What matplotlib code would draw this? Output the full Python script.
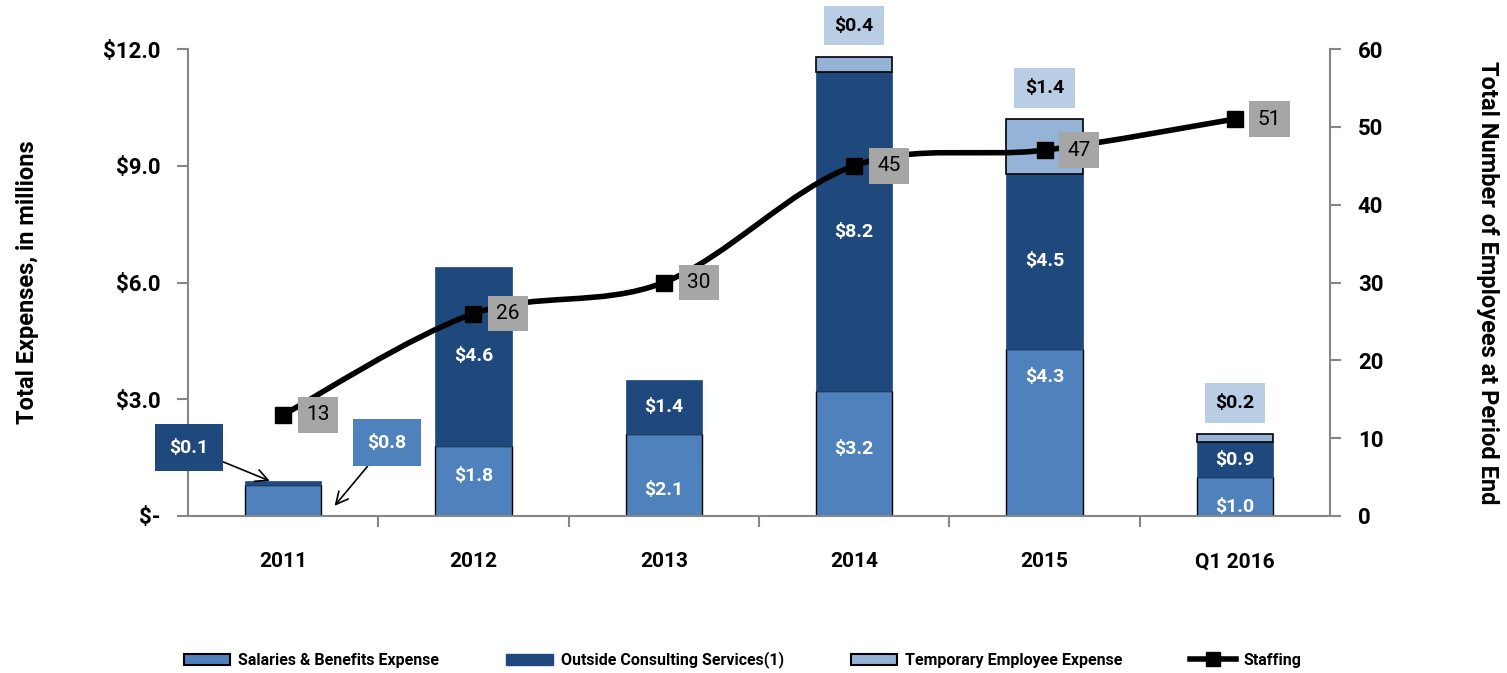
import numpy as np
import matplotlib.pyplot as plt
from matplotlib.path import Path
from matplotlib.patches import PathPatch
from matplotlib.lines import Line2D
from matplotlib.patches import Patch

years = ['2011', '2012', '2013', '2014', '2015', 'Q1 2016']
salaries = [0.8, 1.8, 2.1, 3.2, 4.3, 1.0]
consulting = [0.1, 4.6, 1.4, 8.2, 4.5, 0.9]
temporary = [0.0, 0.0, 0.0, 0.4, 1.4, 0.2]
staffing = [13, 26, 30, 45, 47, 51]

C_SAL = '#4F81BD'
C_CON = '#1F497D'
C_TMP = '#95B3D7'
C_TMP_BOX = '#B9CDE5'
C_AXIS = '#868686'

plt.rcParams['font.family'] = ['Roboto', 'DejaVu Sans']

fig = plt.figure(figsize=(15.07, 6.73), dpi=100)
ax = fig.add_axes([188 / 1507, 1 - 516 / 673, 1142 / 1507, 467 / 673])
x = np.arange(len(years))
w = 0.4

sal = np.array(salaries)
con = np.array(consulting)
tmp = np.array(temporary)

ax.bar(x, sal, w, color=C_SAL, edgecolor='black', linewidth=1.0, zorder=2)
ax.bar(x, con, w, bottom=sal, color=C_CON, edgecolor=C_CON, linewidth=0.5, zorder=2)
has_tmp = tmp > 0
ax.bar(x[has_tmp], tmp[has_tmp], w, bottom=(sal + con)[has_tmp], color=C_TMP,
       edgecolor='black', linewidth=1.2, zorder=2)

# value labels inside the bars
sal_label_y = [None, 1.03, 0.67, 1.72, 3.57, 0.23]
for i in range(1, len(years)):
    ax.text(x[i], sal_label_y[i], f'${salaries[i]:.1f}', color='white', fontsize=14,
            fontweight='bold', ha='center', va='center', zorder=4)
    ax.text(x[i], sal[i] + con[i] / 2, f'${consulting[i]:.1f}', color='white', fontsize=14,
            fontweight='bold', ha='center', va='center', zorder=4)

for i in np.where(has_tmp)[0]:
    ax.text(x[i], sal[i] + con[i] + tmp[i] + 0.8, f'${temporary[i]:.1f}', fontsize=14,
            fontweight='bold', ha='center', va='center', zorder=4,
            bbox=dict(boxstyle='square,pad=0.55', fc=C_TMP_BOX, ec='none'))

# 2011 call-outs
ax.annotate(f'${consulting[0]:.1f}', xy=(x[0] - 0.07, sal[0] + con[0]), xytext=(-0.495, 1.75),
            color='white', fontsize=14, fontweight='bold', ha='center', va='center',
            bbox=dict(boxstyle='square,pad=0.75', fc=C_CON, ec='none'),
            arrowprops=dict(arrowstyle='->', color='black', lw=1.2, mutation_scale=22,
                            shrinkA=0, shrinkB=0),
            annotation_clip=False, zorder=5)
ax.annotate(f'${salaries[0]:.1f}', xy=(x[0] + 0.27, 0.26), xytext=(0.546, 1.88),
            color='white', fontsize=14, fontweight='bold', ha='center', va='center',
            bbox=dict(boxstyle='square,pad=0.75', fc=C_SAL, ec='none'),
            arrowprops=dict(arrowstyle='->', color='black', lw=1.2, mutation_scale=22,
                            shrinkA=0, shrinkB=0),
            annotation_clip=False, zorder=5)

ax.set_xlim(-0.5, len(years) - 0.5)
ax.set_ylim(0, 12)
ax.set_yticks([0, 3, 6, 9, 12])
ax.set_yticklabels(['$-', '$3.0', '$6.0', '$9.0', '$12.0'], fontsize=16, fontweight='bold')
ax.set_xticks(x)
ax.set_xticklabels(years, fontsize=15, fontweight='bold')
ax.set_xticks(np.arange(len(years) - 1) + 0.5, minor=True)
ax.tick_params(axis='x', which='major', length=0, pad=26)
ax.tick_params(axis='x', which='minor', length=8, color=C_AXIS, width=1.5)
ax.tick_params(axis='y', length=8, color=C_AXIS, width=1.5, pad=12)
for s in ['top', 'right']:
    ax.spines[s].set_visible(False)
for s in ['left', 'bottom']:
    ax.spines[s].set_color(C_AXIS)
    ax.spines[s].set_linewidth(1.5)

# staffing on the secondary axis
ax2 = ax.twinx()
ax2.set_ylim(0, 60)
ax2.set_yticks(range(0, 61, 10))
ax2.set_yticklabels([str(v) for v in range(0, 61, 10)], fontsize=16, fontweight='bold')
ax2.tick_params(axis='y', length=8, color=C_AXIS, width=1.5, pad=12)
for s in ['top', 'left', 'bottom']:
    ax2.spines[s].set_visible(False)
ax2.spines['right'].set_color(C_AXIS)
ax2.spines['right'].set_linewidth(1.5)

mid_y = 1 - 282.5 / 673
fig.text(28 / 1507, mid_y, 'Total Expenses, in millions', fontsize=17, fontweight='bold',
         rotation=90, ha='center', va='center')
fig.text(1488 / 1507, mid_y, 'Total Number of Employees at Period End', fontsize=17,
         fontweight='bold', rotation=270, ha='center', va='center')

# smoothed line through the staffing points (Catmull-Rom as cubic Bezier)
pts = np.column_stack([x, staffing]).astype(float)
verts = [tuple(pts[0])]
codes = [Path.MOVETO]
for i in range(len(pts) - 1):
    p0 = pts[max(i - 1, 0)]
    p1 = pts[i]
    p2 = pts[i + 1]
    p3 = pts[min(i + 2, len(pts) - 1)]
    c1 = p1 + (p2 - p0) / 6
    c2 = p2 - (p3 - p1) / 6
    verts += [tuple(c1), tuple(c2), tuple(p2)]
    codes += [Path.CURVE4] * 3
ax2.add_patch(PathPatch(Path(verts, codes), fc='none', ec='black', lw=4, zorder=3))
ax2.plot(x, staffing, linestyle='none', marker='s', markersize=12, color='black', zorder=4)
for xi, v in zip(x, staffing):
    ax2.annotate(str(v), xy=(xi, v), xytext=(25, 0), textcoords='offset points',
                 fontsize=15, ha='center', va='center', zorder=5,
                 bbox=dict(boxstyle='square,pad=0.4', fc='#A6A6A6', ec='none'))

handles = [Patch(fc=C_SAL, ec='black', lw=1.5),
           Patch(fc=C_CON, ec=C_CON),
           Patch(fc=C_TMP, ec='black', lw=1.5),
           Line2D([], [], color='black', lw=4, marker='s', markersize=10)]
labels = ['Salaries & Benefits Expense', 'Outside Consulting Services(1)',
          'Temporary Employee Expense', 'Staffing']
fig.legend(handles, labels, loc='center', bbox_to_anchor=(0.493, 1 - 660 / 673), ncol=4,
           frameon=False, handlelength=2.9, handleheight=0.7, handletextpad=0.5,
           columnspacing=4.2, prop={'weight': 'bold', 'size': 11.5})

fig.savefig('out.png', dpi=100)
